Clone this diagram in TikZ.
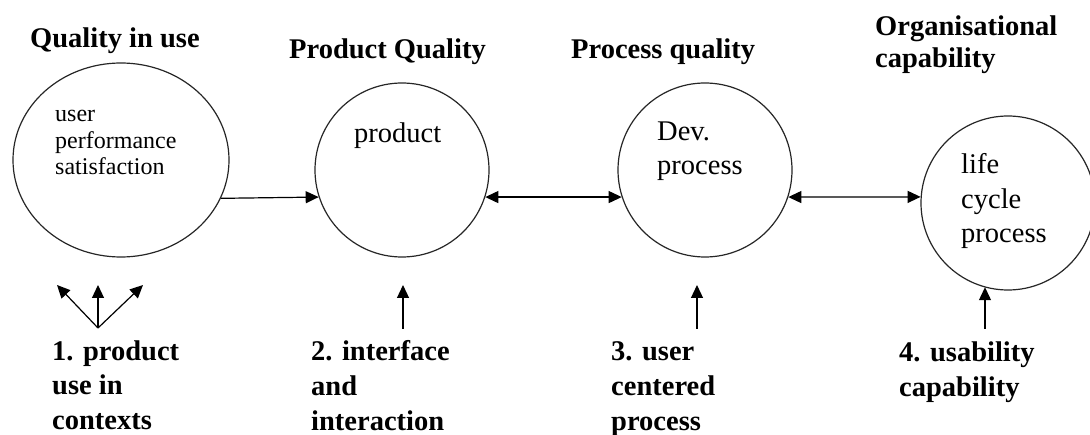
\documentclass[tikz,border=0pt]{standalone}
\usepackage{fontspec}
\setmainfont{Liberation Serif}
\usetikzlibrary{arrows.meta,shapes.geometric}

\begin{document}
\begin{tikzpicture}[x=1pt,y=-1pt,
  ring/.style={circle, draw=black!85, line width=1.2pt, minimum size=174pt, inner sep=0pt},
  oval/.style={ellipse, draw=black!85, line width=1.2pt, minimum width=216pt, minimum height=194pt, inner sep=0pt},
  % multi-line nodes are placed by the baseline of their last line
  head/.style={font=\fontsize{28.5}{32}\bfseries\selectfont, anchor=base west, inner sep=0pt, align=left},
  lab/.style={font=\fontsize{28.5}{35}\bfseries\selectfont, anchor=base west, inner sep=0pt, align=left},
  inner/.style={font=\fontsize{28.5}{34.5}\selectfont, anchor=base west, inner sep=0pt, align=left},
  arr/.style={line width=1.2pt, -{Triangle[length=13pt,width=12pt]}},
  arrboth/.style={line width=1.2pt, {Triangle[length=13pt,width=12pt]}-{Triangle[length=13pt,width=12pt]}}
]
\useasboundingbox (0,0) rectangle (1090,435);

% the four quality areas
\node[oval] (use)  at (121,160) {};
\node[ring] (prod) at (402,170) {};
\node[ring] (dev)  at (705,170) {};
\node[ring] (life) at (1008,203) {};

% headings
\node[head] (h1) at (30,48)  {Quality in use};
\node[head] (h2) at (289,59) {Product Quality};
\node[head] (h3) at (571,59) {Process quality};
\node[head] (h4) at (875,68) {Organisational\\capability};

% contents of the circles
\node[inner, font=\fontsize{24}{26.5}\selectfont] (t1) at (55,175) {user\\performance\\satisfaction};
\node[inner] (t2) at (354,143) {product};
\node[inner] (t3) at (657,175) {Dev.\\process};
\node[inner] (t4) at (961,243) {life\\cycle\\process};

% links between the circles
\draw[arr]     (use.-21)      -- (prod.198.77);
\draw[arrboth] (prod.-18.77)  -- (dev.198.77);
\draw[arrboth] (dev.-18.77)   -- (life.176.7);

% numbered aspects
\node[lab] (l1) at (52,430)  {1. product\\use in\\contexts};
\node[lab] (l2) at (311,431) {2. interface\\and\\interaction};
\node[lab] (l3) at (611,431) {3. user\\centered\\process};
\node[lab] (l4) at (899,397) {4. usability\\capability};

% arrows from the aspects
\coordinate (fan) at (98,328);
\coordinate (f1) at (57,285);
\coordinate (f2) at (98,285);
\coordinate (f3) at (143,285);
\draw[arr] (fan) -- (f1);
\draw[arr] (fan) -- (f2);
\draw[arr] (fan) -- (f3);

\coordinate (s2) at (403,329);
\coordinate (e2) at (403,285);
\draw[arr] (s2) -- (e2);

\coordinate (s3) at (697,329);
\coordinate (e3) at (697,285);
\draw[arr] (s3) -- (e3);

\coordinate (s4) at (985,329);
\draw[arr] (s4) -- (s4 |- life.254.7);
\end{tikzpicture}
\end{document}
